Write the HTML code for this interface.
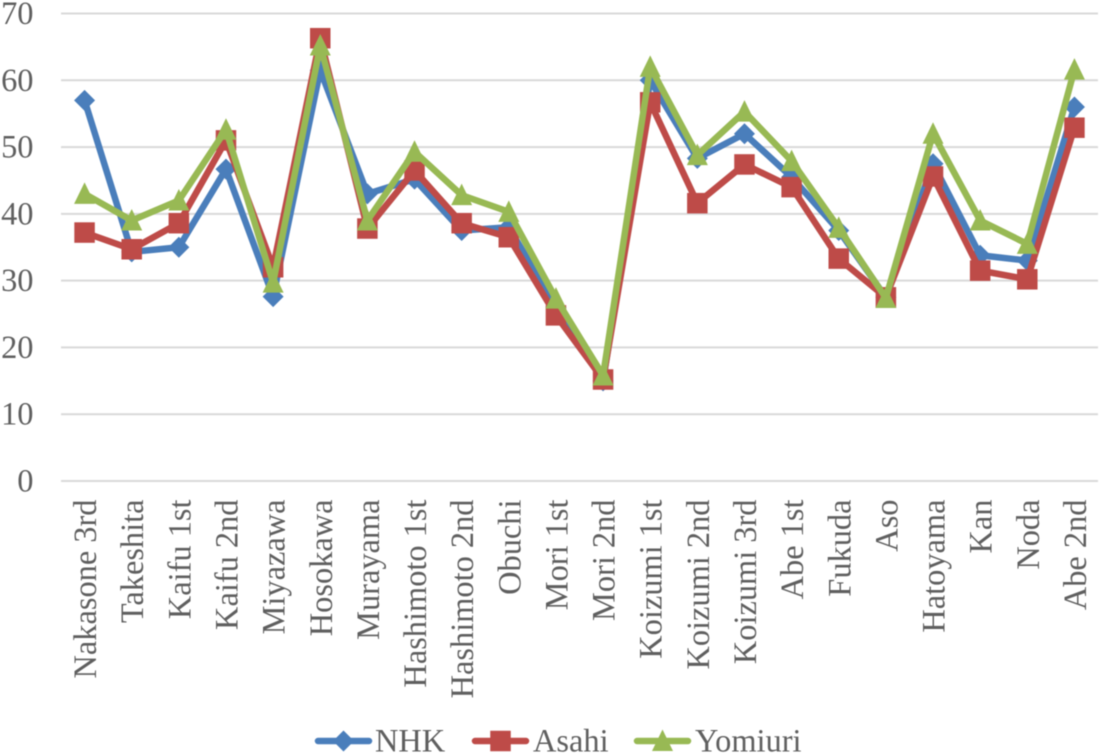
<!DOCTYPE html>
<html lang="en">
<head>
<meta charset="utf-8">
<title>Cabinet approval by poll</title>
<style>
html,body{margin:0;padding:0;background:#fff;}
#chart{display:block;filter:blur(0.5px);}
text{font-family:"Liberation Serif",serif;font-size:32.4px;fill:#5f5f5f;}
</style>
</head>
<body>
<svg id="chart" width="1100" height="754" viewBox="0 0 1100 754" xmlns="http://www.w3.org/2000/svg">
<g id="grid"></g>
<g id="yticks"></g>
<g id="xticks"></g>
<g id="series"></g>
<g id="legend"></g>
</svg>
<script>
const categories = ["Nakasone 3rd","Takeshita","Kaifu 1st","Kaifu 2nd","Miyazawa","Hosokawa","Murayama","Hashimoto 1st","Hashimoto 2nd","Obuchi","Mori 1st","Mori 2nd","Koizumi 1st","Koizumi 2nd","Koizumi 3rd","Abe 1st","Fukuda","Aso","Hatoyama","Kan","Noda","Abe 2nd"];
const yTicks = [0,10,20,30,40,50,60,70];
const nhkValues = [57,34.3,35,46.7,27.6,61.5,43,45.2,37.5,38,26,15,60,48.3,52,45.5,37.5,27.5,47.5,33.8,33,56];
const asahiValues = [37.2,34.7,38.6,51,32,66.3,37.8,46.5,38.6,36.5,24.8,15.2,56.7,41.6,47.4,44,33.3,27.5,45.6,31.5,30.2,52.9];
const yomiuriValues = [43,39,42,52.6,29.7,65.2,39,49.3,42.8,40.3,27.3,15.8,62,48.8,55.3,47.9,37.9,27.4,52,39,35.5,61.6];

const NS = 'http://www.w3.org/2000/svg';
const plot = {left:61, right:1098, top:13.5, bottom:481};
const yMax = 70;
function xScale(i){
  const band = (plot.right - plot.left) / categories.length;
  return plot.left + band * (i + 0.5);
}
function yScale(v){
  return plot.bottom - (v / yMax) * (plot.bottom - plot.top);
}
function make(tag, attrs, parent){
  const el = document.createElementNS(NS, tag);
  for (const k in attrs) el.setAttribute(k, attrs[k]);
  parent.appendChild(el);
  return el;
}
function drawMarker(kind, cx, cy, color, parent, name){
  let el;
  if (kind === 'diamond') {
    el = make('polygon', {points:`${cx},${cy-10.5} ${cx+10.5},${cy} ${cx},${cy+10.5} ${cx-10.5},${cy}`, fill:color}, parent);
  } else if (kind === 'square') {
    el = make('rect', {x:cx-10.25, y:cy-10.25, width:20.5, height:20.5, fill:color}, parent);
  } else {
    el = make('polygon', {points:`${cx},${cy-11.5} ${cx+10.5},${cy+10} ${cx-10.5},${cy+10}`, fill:color}, parent);
  }
  
  
  return el;
}

const gridG = document.getElementById('grid');
const yG = document.getElementById('yticks');
yTicks.forEach(function(t){
  const line = make('line', {x1:plot.left, x2:plot.right, y1:yScale(t), y2:yScale(t), stroke:'#d9d9d9', 'stroke-width':2}, gridG);
  
  
  const label = make('text', {x:33.5, y:yScale(t) + 10.5, 'text-anchor':'end'}, yG);
  label.textContent = t;
  
  
});

const xG = document.getElementById('xticks');
categories.forEach(function(c, i){
  const bx = xScale(i) + 11.5;
  const label = make('text', {transform:`translate(${bx},499.5) rotate(-90)`, 'text-anchor':'end'}, xG);
  label.textContent = c;
  
  
});

const seriesG = document.getElementById('series');
function drawSeries(values, color, kind, name){
  const g = make('g', {}, seriesG);
  
  
  const pts = values.map(function(v, i){ return xScale(i) + ',' + yScale(v); }).join(' ');
  const line = make('polyline', {points:pts, fill:'none', stroke:color, 'stroke-width':6.5, 'stroke-linejoin':'round', 'stroke-linecap':'round'}, g);
  
  
  values.forEach(function(v, i){
    drawMarker(kind, xScale(i), yScale(v), color, g, name + '-marker');
  });
}
drawSeries(nhkValues, '#4a7ebb', 'diamond', 'nhk');
drawSeries(asahiValues, '#be4b48', 'square', 'asahi');
drawSeries(yomiuriValues, '#98b954', 'triangle', 'yomiuri');

const legendG = document.getElementById('legend');
function drawLegend(x1, x2, textX, label, color, kind, name){
  const g = make('g', {}, legendG);
  
  
  make('line', {x1:x1, x2:x2, y1:741, y2:741, stroke:color, 'stroke-width':6.5, 'stroke-linecap':'round'}, g);
  drawMarker(kind, (x1 + x2) / 2, 741, color, g, 'legend-marker-' + name);
  const t = make('text', {x:textX, y:751.5}, g);
  t.textContent = label;
  
  
}
drawLegend(318, 369, 375, 'NHK', '#4a7ebb', 'diamond', 'nhk');
drawLegend(475, 526, 533, 'Asahi', '#be4b48', 'square', 'asahi');
drawLegend(637, 688, 695, 'Yomiuri', '#98b954', 'triangle', 'yomiuri');
</script>
</body>
</html>
